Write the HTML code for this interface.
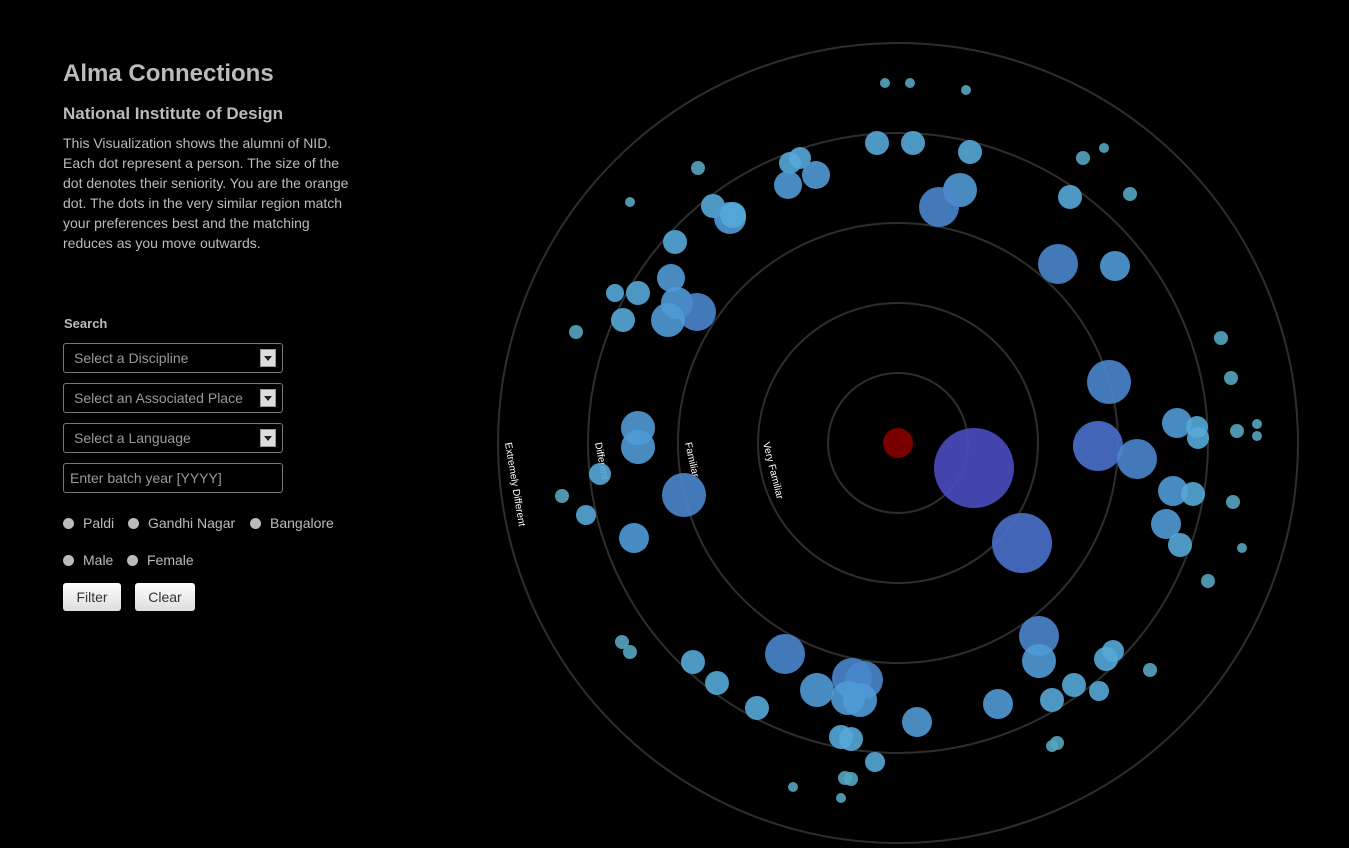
<!DOCTYPE html>
<html><head><meta charset="utf-8"><style>
body{margin:0;background:#000;width:1349px;height:848px;overflow:hidden;font-family:"Liberation Sans",sans-serif;color:#ccc;position:relative}
h1{position:absolute;left:63px;top:60px;margin:0;font-size:24px;color:#bbb;font-weight:bold}
h2{position:absolute;left:63px;top:104px;margin:0;font-size:17px;color:#bbb;font-weight:bold}
.desc{position:absolute;left:63px;top:133px;width:290px;font-size:14px;line-height:20px;color:#bbb}
.lbl{position:absolute;left:64px;top:316px;font-size:13px;font-weight:bold;color:#bbb}
.sel{position:absolute;left:63px;height:30px;border:1px solid #777;border-radius:3px;box-sizing:border-box;width:220px;font-size:14px;color:#999;line-height:28px;padding-left:10px}
.sel .arr{position:absolute;right:6px;top:5px;width:14px;height:16px;background:#ddd;border:1px solid #999}
.sel .arr:after{content:"";position:absolute;left:3px;top:6px;border:4px solid transparent;border-top:5px solid #222}
.inp{padding-left:6px}
.radio{position:absolute;font-size:14px;color:#bbb}
.radio i{display:inline-block;width:11px;height:11px;border-radius:50%;background:#bbb;margin-right:9px;vertical-align:-1px}
.btn{position:absolute;top:583px;height:28px;background:linear-gradient(#fff,#ddd);border-radius:3px;color:#333;font-size:14px;line-height:28px;text-align:center}
</style></head><body>
<h1>Alma Connections</h1>
<h2>National Institute of Design</h2>
<div class="desc">This Visualization shows the alumni of NID. Each dot represent a person. The size of the dot denotes their seniority. You are the orange dot. The dots in the very similar region match your preferences best and the matching reduces as you move outwards.</div>
<div class="lbl">Search</div>
<div class="sel" style="top:343px">Select a Discipline<span class="arr"></span></div>
<div class="sel" style="top:383px">Select an Associated Place<span class="arr"></span></div>
<div class="sel" style="top:423px">Select a Language<span class="arr"></span></div>
<div class="sel inp" style="top:463px">Enter batch year [YYYY]</div>
<div class="radio" style="left:63px;top:515px"><i></i>Paldi</div>
<div class="radio" style="left:128px;top:515px"><i></i>Gandhi Nagar</div>
<div class="radio" style="left:250px;top:515px"><i></i>Bangalore</div>
<div class="radio" style="left:63px;top:552px"><i></i>Male</div>
<div class="radio" style="left:127px;top:552px"><i></i>Female</div>
<div class="btn" style="left:63px;width:58px">Filter</div>
<div class="btn" style="left:135px;width:60px">Clear</div>
<svg id="chart" width="1349" height="848" style="position:absolute;left:0;top:0"></svg>
<script>
const ringRadii=[70,140,220,310,400];
const ringLabels=["Very Familiar","Familiar","Different","Extremely Different"];
const px=[885,910,966,877,913,970,698,630,790,800,816,788,960,939,1083,1104,1070,1130,713,730,733,675,1058,1115,671,615,638,677,697,668,623,576,1221,1231,1109,638,638,1177,1197,1198,1237,1257,1257,1098,1137,974,600,684,562,1173,1193,1233,586,1166,1180,1022,634,1242,1208,1039,1039,622,630,785,1113,1106,1150,693,717,852,864,817,848,860,1074,1099,998,1052,757,917,841,851,1057,1052,875,845,851,793,841];
const py=[83,83,90,143,143,152,168,202,163,158,175,185,190,207,158,148,197,194,206,218,215,242,264,266,278,293,293,303,312,320,320,332,338,378,382,428,447,423,427,438,431,424,436,446,459,468,474,495,496,491,494,502,515,524,545,543,538,548,581,636,661,642,652,654,651,659,670,662,683,678,680,690,698,700,685,691,704,700,708,722,737,739,743,746,762,778,779,787,798];
const pr=[5,5,5,12,12,12,7,5,11,11,14,14,17,20,7,5,12,7,12,16,13,12,20,15,14,9,12,16,19,17,12,7,7,7,22,17,17,15,11,11,7,5,5,25,20,40,11,22,7,15,12,7,10,15,12,30,15,5,7,20,17,7,7,20,11,12,7,12,12,20,19,17,17,17,12,10,15,12,12,15,12,12,7,6,10,7,7,5,5];
const cx=898,cy=443;
const svg=document.getElementById('chart');
const NS='http://www.w3.org/2000/svg';
ringRadii.forEach((r,i)=>{const c=document.createElementNS(NS,'circle');
c.setAttribute('cx',cx);c.setAttribute('cy',cy);c.setAttribute('r',r);c.setAttribute('fill','none');c.setAttribute('stroke','#2e2e2e');c.setAttribute('stroke-width','2');


svg.appendChild(c);});
ringLabels.forEach((t,i)=>{const r=ringRadii[i+1]-7;const x=cx-r+ (i==0?-2:0),y=cy;
const tx=document.createElementNS(NS,'text');tx.textContent=t;
tx.setAttribute('x',x);tx.setAttribute('y',y);tx.setAttribute('fill','#fff');tx.setAttribute('font-size','10');tx.setAttribute('font-family','Liberation Sans, sans-serif');
tx.setAttribute('transform','rotate('+(76+i*1.5)+' '+x+' '+y+')');


svg.appendChild(tx);});
function col(r){if(r<=7)return '#55a5bf';if(r<=13)return '#55a8d8';if(r<=17)return '#4f9ad6';if(r<=22)return '#4a86cc';if(r<=30)return '#4a70cc';return '#4a4cc0';}
px.forEach((x,i)=>{const c=document.createElementNS(NS,'circle');
c.setAttribute('cx',x);c.setAttribute('cy',py[i]);c.setAttribute('r',pr[i]);c.setAttribute('fill',col(pr[i]));c.setAttribute('fill-opacity','0.9');


svg.appendChild(c);});
const me=document.createElementNS(NS,'circle');me.setAttribute('cx',cx);me.setAttribute('cy',cy);me.setAttribute('r',15);me.setAttribute('fill','#7a0000');


svg.appendChild(me);
</script>
</body></html>
